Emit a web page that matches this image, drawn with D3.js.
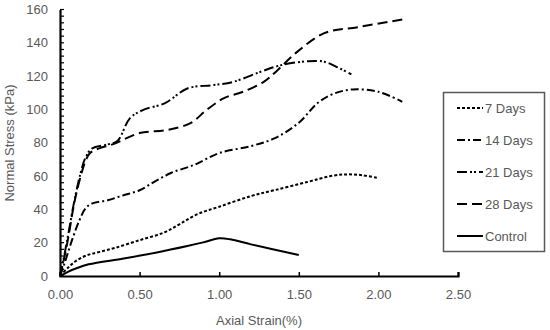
<!DOCTYPE html>
<html>
<head>
<meta charset="utf-8">
<script src="https://cdn.jsdelivr.net/npm/d3@7"></script>
<style>
  body { margin: 0; background: #fff; }
  text { font-family: "Liberation Sans", Arial, sans-serif; fill: #595959; }
</style>
</head>
<body>
<svg id="chart" width="550" height="330"></svg>
<script>
// values: [strain %, stress kPa]
var days7 = [[0,0],[0.05,5],[0.1,9],[0.17,12.5],[0.25,14.5],[0.35,17],[0.5,21.5],[0.65,26],[0.75,31],[0.86,37],[1.0,41.6],[1.2,48],[1.35,51.6],[1.56,56.6],[1.7,60],[1.8,61],[1.9,60.5],[2.0,58.8]];
var days14 = [[0,0],[0.03,8],[0.07,20],[0.12,33],[0.16,40.5],[0.2,43.5],[0.3,45.5],[0.4,48.5],[0.5,51.5],[0.6,57],[0.7,62],[0.84,66.6],[1.0,73.8],[1.2,78],[1.35,82.8],[1.5,92],[1.62,104],[1.72,109.5],[1.84,112],[2.0,110.6],[2.15,104.6]];
var days21 = [[0,0],[0.02,9],[0.05,24],[0.09,45],[0.13,62],[0.16,71],[0.2,76.5],[0.3,79],[0.36,81],[0.44,94.8],[0.52,99.6],[0.66,103.8],[0.8,112.6],[0.96,114.6],[1.09,116.6],[1.26,122.6],[1.39,126.6],[1.56,129],[1.66,128.6],[1.75,125],[1.83,121]];
var days28 = [[0,0],[0.02,8],[0.05,22],[0.09,44],[0.13,60],[0.16,69],[0.19,74],[0.25,76.8],[0.33,79],[0.5,85.8],[0.67,87.6],[0.82,91.8],[0.92,99.6],[1.03,106.8],[1.15,110.6],[1.28,116.6],[1.36,123],[1.48,133.8],[1.66,145.8],[1.87,149.4],[2.15,154]];
var control = [[0,0],[0.05,2.5],[0.1,4.5],[0.18,7],[0.4,10.5],[0.6,14],[0.8,18],[0.9,20.2],[1.0,22.6],[1.07,22],[1.2,19],[1.5,12.6]];

var seriesNames = ['7 Days', '14 Days', '21 Days', '28 Days', 'Control'];
var seriesData = [days7, days14, days21, days28, control];
var seriesDash = ['3,2', '8,3,2,3', '10,3,2,2,2,3', '10,5', null];

var xTicks = [0, 0.5, 1.0, 1.5, 2.0, 2.5];
var yTicks = [0, 20, 40, 60, 80, 100, 120, 140, 160];

var svg = d3.select('#chart');
var x = d3.scaleLinear().domain([0, 2.5]).range([60, 458]);
var y = d3.scaleLinear().domain([0, 160]).range([276, 9.5]);

// minor y ticks every 4 kPa, pointing inward
var minor = d3.range(0, 161, 4);
svg.append('g').selectAll('line').data(minor).enter().append('line')
    .attr('x1', 60).attr('x2', 64)
    .attr('y1', function (d) { return y(d); }).attr('y2', function (d) { return y(d); })
    .attr('stroke', '#000').attr('stroke-width', 1.2);

var yAxis = svg.append('g').attr('transform', 'translate(60,0)')
    .call(d3.axisLeft(y).tickValues(yTicks).tickSize(0).tickPadding(12).tickFormat(d3.format('d')));
yAxis.select('.domain').attr('stroke', '#000').attr('stroke-width', 2.2);
yAxis.selectAll('text').style('font-size', '13px').attr('fill', '#595959');

var xAxis = svg.append('g').attr('transform', 'translate(0,276)')
    .call(d3.axisBottom(x).tickValues(xTicks).tickSize(-4).tickPadding(14).tickFormat(d3.format('.2f')));
xAxis.select('.domain').attr('stroke', '#000').attr('stroke-width', 2.2);
xAxis.selectAll('.tick line').attr('stroke', '#000').attr('stroke-width', 1.5);
xAxis.selectAll('text').style('font-size', '13px').attr('fill', '#595959');

// axis titles
svg.append('text').attr('x', 259).attr('y', 325).attr('text-anchor', 'middle')
    .style('font-size', '13px').text('Axial Strain(%)');
svg.append('text').attr('transform', 'translate(14,143) rotate(-90)').attr('text-anchor', 'middle')
    .style('font-size', '13px').text('Normal Stress (kPa)');

var line = d3.line()
    .x(function (d) { return x(d[0]); })
    .y(function (d) { return y(d[1]); })
    .curve(d3.curveCatmullRom.alpha(0.5));

seriesData.forEach(function (data, i) {
    svg.append('path').datum(data)
        .attr('d', line)
        .attr('fill', 'none')
        .attr('stroke', '#000')
        .attr('stroke-width', 2)
        .attr('stroke-dasharray', seriesDash[i]);
});

// legend
var legend = svg.append('g');
legend.append('rect').attr('x', 443.5).attr('y', 92.5).attr('width', 101).attr('height', 159)
    .attr('fill', '#fff').attr('stroke', '#595959').attr('stroke-width', 1.5);
seriesNames.forEach(function (name, i) {
    var ly = 108 + i * 32;
    legend.append('line').attr('x1', 457).attr('x2', 483).attr('y1', ly).attr('y2', ly)
        .attr('stroke', '#000').attr('stroke-width', 2).attr('stroke-dasharray', seriesDash[i]);
    legend.append('text').attr('x', 485).attr('y', ly + 5).style('font-size', '13px').text(name);
});
</script>
</body>
</html>
